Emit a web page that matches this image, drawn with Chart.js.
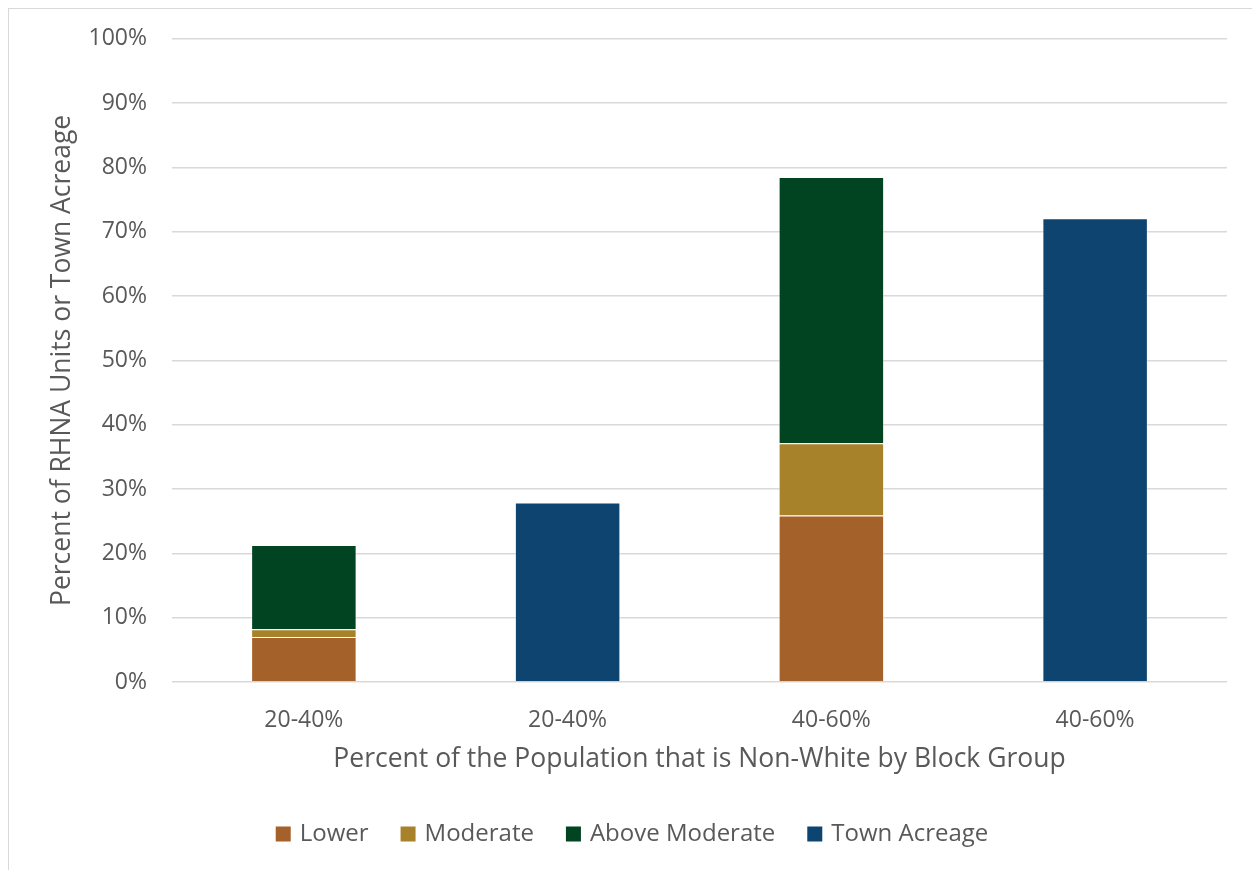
<!DOCTYPE html>
<html>
<head>
<meta charset="utf-8">
<script src="https://cdn.jsdelivr.net/npm/chart.js@4/dist/chart.umd.min.js"></script>
<style>
  html, body { margin: 0; padding: 0; background: #fff; overflow: hidden; }
  #frame { position: absolute; left: 8px; top: 8px; width: 1300px; height: 900px; border: 1.5px solid #d9d9d9; box-sizing: border-box; }
  #c { position: absolute; left: 0; top: 0; }
</style>
</head>
<body>
<div id="frame"></div>
<canvas id="c" width="1252" height="870"></canvas>
<script>
const categories = ['20-40%', '20-40%', '40-60%', '40-60%'];
const lower = [7.0, null, 25.9, null];
const moderate = [1.2, null, 11.2, null];
const aboveModerate = [13.1, null, 41.4, null];
const townAcreage = [null, 27.9, null, 72.1];
const yTicks = [0, 10, 20, 30, 40, 50, 60, 70, 80, 90, 100];

const gray = '#595959';
const font = 'Open Sans';

new Chart(document.getElementById('c'), {
  type: 'bar',
  data: {
    labels: categories,
    datasets: [
      { label: 'Lower', data: lower, backgroundColor: '#A5612A' },
      { label: 'Moderate', data: moderate, backgroundColor: '#A8822B' },
      { label: 'Above Moderate', data: aboveModerate, backgroundColor: '#004422' },
      { label: 'Town Acreage', data: townAcreage, backgroundColor: '#0E4470' }
    ].map(d => Object.assign(d, {
      borderColor: 'rgba(255,255,255,0.4)', borderWidth: 1,
      categoryPercentage: 0.8, barPercentage: 0.5, skipNull: true
    }))
  },
  options: {
    responsive: false,
    animation: false,
    devicePixelRatio: 1,
    layout: { padding: { left: 40, right: 25, top: 34, bottom: 14 } },
    plugins: {
      tooltip: { enabled: false },
      legend: {
        position: 'bottom',
        labels: {
          font: { family: font, size: 24 },
          color: gray,
          boxWidth: 9,
          boxHeight: 9,
          padding: 35,
          generateLabels: chart => Chart.defaults.plugins.legend.labels.generateLabels(chart)
            .map(l => Object.assign(l, { lineWidth: 6, strokeStyle: l.fillStyle }))
        }
      }
    },
    scales: {
      x: {
        stacked: true,
        afterFit: s => { s.height = 105; },
        grid: { display: false },
        border: { display: false },
        ticks: { font: { family: font, size: 23 }, color: gray, padding: 17, maxRotation: 0 },
        title: {
          display: true,
          text: 'Percent of the Population that is Non-White by Block Group',
          font: { family: font, size: 26.5 },
          color: gray,
          padding: { top: 11, bottom: 12 }
        }
      },
      y: {
        stacked: true,
        min: 0,
        max: 100,
        afterFit: s => { s.width = 132; },
        afterBuildTicks: s => { s.ticks = yTicks.map(v => ({ value: v })); },
        grid: { color: '#d9d9d9', lineWidth: 1.5, drawTicks: false },
        border: { display: false },
        ticks: {
          font: { family: font, size: 23 },
          color: gray,
          padding: 25,
          callback: v => v + '%'
        },
        title: {
          display: true,
          text: 'Percent of RHNA Units or Town Acreage',
          font: { family: font, size: 26.5 },
          color: gray,
          padding: { top: 7, bottom: 9 }
        }
      }
    }
  }
});
</script>
</body>
</html>
